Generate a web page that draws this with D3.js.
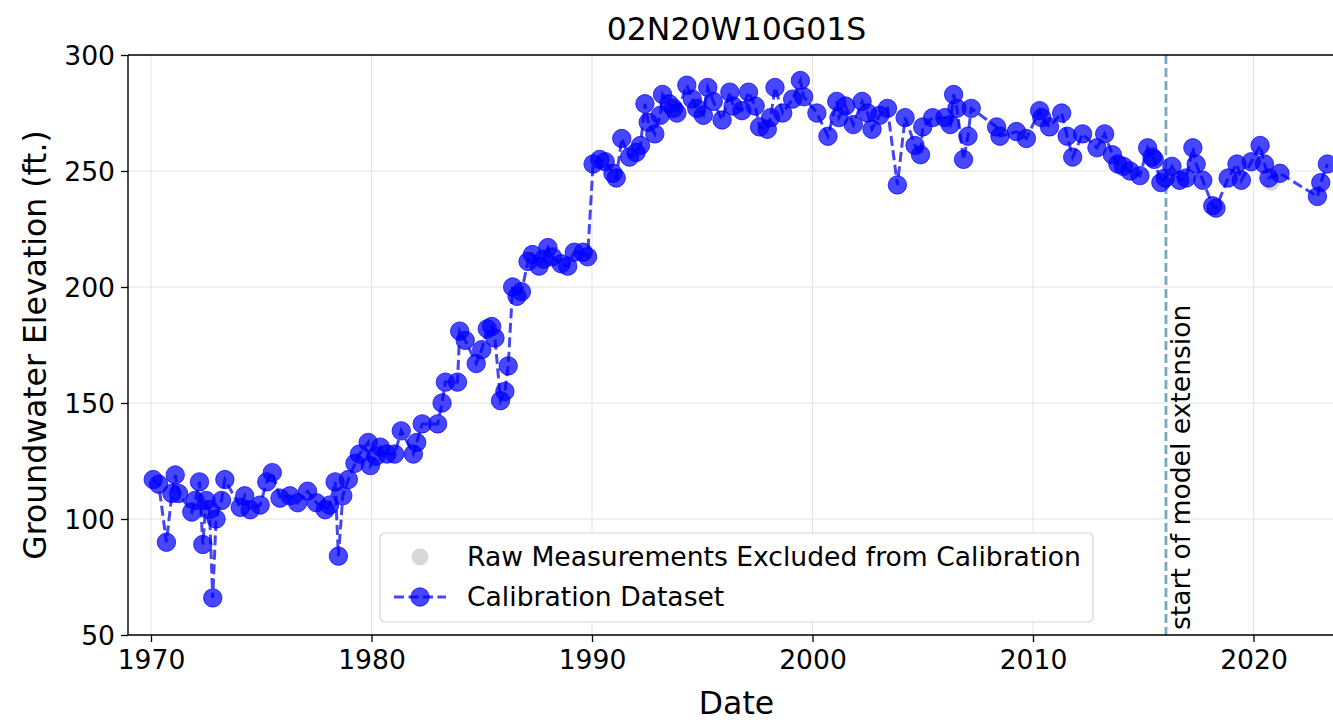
<!DOCTYPE html>
<html><head><meta charset="utf-8">
<script src="https://cdn.jsdelivr.net/npm/d3@7"></script>
<style>body{margin:0;background:#fff}svg{display:block;font-family:"DejaVu Sans",sans-serif}</style>
</head><body><svg id="c" width="1333" height="723"></svg>
<script>
const title = "02N20W10G01S";
const xTicks = [1970,1980,1990,2000,2010,2020];
const yTicks = [50,100,150,200,250,300];
const extensionYear = 2016.03;
const calYears = [1970.1,1970.35,1970.7,1970.95,1971.1,1971.25,1971.85,1972.0,1972.2,1972.35,1972.5,1972.65,1972.8,1972.95,1973.2,1973.35,
1974.05,1974.25,1974.5,1974.95,1975.25,1975.5,1975.85,1976.3,1976.65,1977.1,1977.5,1977.9,1978.1,1978.35,1978.5,1978.7,1978.95,
1979.25,1979.45,1979.85,1979.95,1980.2,1980.4,1980.7,1981.05,1981.35,1981.9,1982.05,1982.3,1983.0,1983.2,1983.35,1983.9,
1984.0,1984.25,1984.75,1985.0,1985.25,1985.45,1985.6,1985.85,1986.05,1986.2,1986.4,1986.6,1986.8,1987.1,1987.3,1987.6,1987.8,
1988.0,1988.2,1988.6,1988.9,1989.2,1989.6,1989.8,1990.05,1990.35,1990.6,1990.95,1991.1,1991.35,1991.7,1992.0,1992.2,1992.4,
1992.55,1992.85,1993.1,1993.2,1993.5,1993.7,1993.85,1994.3,1994.55,1994.75,1995.05,1995.25,1995.5,1995.9,1996.25,1996.4,1996.8,
1997.1,1997.4,1997.6,1997.95,1998.1,1998.3,1998.65,1999.1,1999.45,1999.6,2000.2,2000.7,2001.1,2001.2,2001.5,2001.85,2002.25,
2002.5,2002.7,2003.05,2003.4,2003.85,2004.2,2004.65,2004.9,2005.0,2005.45,2006.0,2006.25,2006.4,2006.55,2006.85,2007.05,2007.2,
2008.35,2008.5,2009.25,2009.7,2010.3,2010.4,2010.75,2011.3,2011.55,2011.8,2012.25,2012.9,2013.25,2013.6,2013.85,2014.1,2014.4,
2014.85,2015.2,2015.4,2015.5,2015.8,2016.0,2016.3,2016.65,2016.95,2017.25,2017.4,2017.7,2018.15,2018.3,2018.85,2019.25,2019.45,
2019.9,2020.3,2020.5,2020.7,2021.2,2022.9,2023.05,2023.35];
const calValues = [117,115,90,111,119,111,103,108,116,89,108,104,66,100,108,117,
105,110,104,106,116,120,109,110,107,112,107,104,106,116,84,110,117,
124,128,133,123,127,131,128,128,138,128,133,141,141,150,159,159,
181,177,167,173,182,183,178,151,155,166,200,196,198,211,214,209,212,
217,213,210,209,215,215,213,253,255,254,249,247,264,256,258,261,279,
271,266,274,283,279,277,275,287,281,277,274,286,280,272,284,278,276,
284,278,269,268,273,286,275,281,289,282,275,265,280,273,278,270,280,
275,268,274,277,244,273,261,257,269,273,273,270,283,277,255,265,277,
269,265,267,264,276,273,269,275,265,256,266,260,266,257,253,252,250,
248,260,256,255,245,247,252,246,247,260,253,246,235,234,247,253,246,
254,261,253,247,249,239,245,253];
const rawYears = [2020.8];
const rawValues = [245];

const svg = d3.select("#c");
const L = 128, T = 55, R = 1345, B = 635;
const x = d3.scaleLinear().domain([1968.957, 2024.15]).range([L, R]);
const y = d3.scaleLinear().domain([50, 300]).range([B, T]);
const tickFont = 26.6, labelFont = 31.5;

// grid
const grid = svg.append("g").attr("stroke", "#e3e3e3").attr("stroke-width", 1);
grid.selectAll("line.v").data(xTicks).join("line").attr("class","v")
  .attr("x1", d => x(d)).attr("x2", d => x(d)).attr("y1", T).attr("y2", B);
grid.selectAll("line.h").data(yTicks).join("line").attr("class","h")
  .attr("x1", L).attr("x2", R).attr("y1", d => y(d)).attr("y2", d => y(d));

// axes
const xAxis = svg.append("g").attr("transform", `translate(0,${B})`)
  .call(d3.axisBottom(x).tickValues(xTicks).tickFormat(d3.format("d")).tickSize(7).tickPadding(8));
const yAxis = svg.append("g").attr("transform", `translate(${L},0)`)
  .call(d3.axisLeft(y).tickValues(yTicks).tickSize(7).tickPadding(6));
[xAxis, yAxis].forEach(a => {
  a.select(".domain").remove();
  a.selectAll("line").attr("stroke", "#000").attr("stroke-width", 1.3);
  a.selectAll("text").attr("font-size", tickFont).attr("fill", "#000").attr("font-family", "DejaVu Sans");
});
yAxis.selectAll("text").attr("dy", "0.36em");

// extension line
svg.append("line").attr("x1", x(extensionYear)).attr("x2", x(extensionYear)).attr("y1", T).attr("y2", B)
  .attr("stroke", "#78a8bc").attr("stroke-width", 2.8).attr("stroke-dasharray", "9,4");
svg.append("text").attr("transform", `translate(${x(extensionYear)+24},${B-5}) rotate(-90)`)
  .attr("font-size", tickFont).attr("fill", "#000").text("start of model extension");

const cal = calYears.map((d, i) => ({yr: d, v: calValues[i]}));
const raw = rawYears.map((d, i) => ({yr: d, v: rawValues[i]}));

const plot = svg.append("g");
plot.selectAll("circle.raw").data(raw).join("circle").attr("class","raw")
  .attr("cx", d => x(d.yr)).attr("cy", d => y(d.v)).attr("r", 8.5)
  .attr("fill", "#c8c8c8").attr("fill-opacity", 0.7);
plot.append("path").datum(cal)
  .attr("d", d3.line().x(d => x(d.yr)).y(d => y(d.v)))
  .attr("fill", "none").attr("stroke", "#2525ee").attr("stroke-opacity", 0.85)
  .attr("stroke-width", 3).attr("stroke-dasharray", "10,4.5");
plot.selectAll("circle.cal").data(cal).join("circle").attr("class","cal")
  .attr("cx", d => x(d.yr)).attr("cy", d => y(d.v)).attr("r", 9.2)
  .attr("fill", "#0000ff").attr("fill-opacity", 0.72)
  .attr("stroke", "#0000ff").attr("stroke-opacity", 0.72).attr("stroke-width", 1);

// spines
const sp = svg.append("g").attr("stroke", "#000").attr("stroke-width", 1.4);
sp.append("line").attr("x1", L).attr("x2", L).attr("y1", T).attr("y2", B);
sp.append("line").attr("x1", L).attr("x2", R).attr("y1", B).attr("y2", B);
sp.append("line").attr("x1", L).attr("x2", R).attr("y1", T).attr("y2", T);
sp.append("line").attr("x1", R).attr("x2", R).attr("y1", T).attr("y2", B);

// legend
const lg = svg.append("g");
lg.append("rect").attr("x", 380).attr("y", 533).attr("width", 713).attr("height", 89).attr("rx", 5)
  .attr("fill", "#fff").attr("fill-opacity", 0.85).attr("stroke", "#d5d5d5").attr("stroke-width", 1.2);
lg.append("circle").attr("cx", 420).attr("cy", 557).attr("r", 8.5).attr("fill", "#c8c8c8").attr("fill-opacity", 0.7);
lg.append("line").attr("x1", 394).attr("x2", 446).attr("y1", 597).attr("y2", 597)
  .attr("stroke", "#2525ee").attr("stroke-opacity", 0.85).attr("stroke-width", 3).attr("stroke-dasharray", "10,4.5");
lg.append("circle").attr("cx", 420).attr("cy", 597).attr("r", 9.2).attr("fill", "#0000ff").attr("fill-opacity", 0.72)
  .attr("stroke", "#0000ff").attr("stroke-opacity", 0.72);
lg.append("text").attr("x", 467).attr("y", 566).attr("font-size", tickFont).text("Raw Measurements Excluded from Calibration");
lg.append("text").attr("x", 467).attr("y", 606).attr("font-size", tickFont).text("Calibration Dataset");

// titles
svg.append("text").attr("x", (L + R) / 2).attr("y", 40).attr("text-anchor", "middle")
  .attr("font-size", labelFont).text(title);
svg.append("text").attr("x", (L + R) / 2).attr("y", 714).attr("text-anchor", "middle")
  .attr("font-size", labelFont).text("Date");
svg.append("text").attr("transform", `translate(46,${(T + B) / 2}) rotate(-90)`).attr("text-anchor", "middle")
  .attr("font-size", labelFont).text("Groundwater Elevation (ft.)");
</script></body></html>
